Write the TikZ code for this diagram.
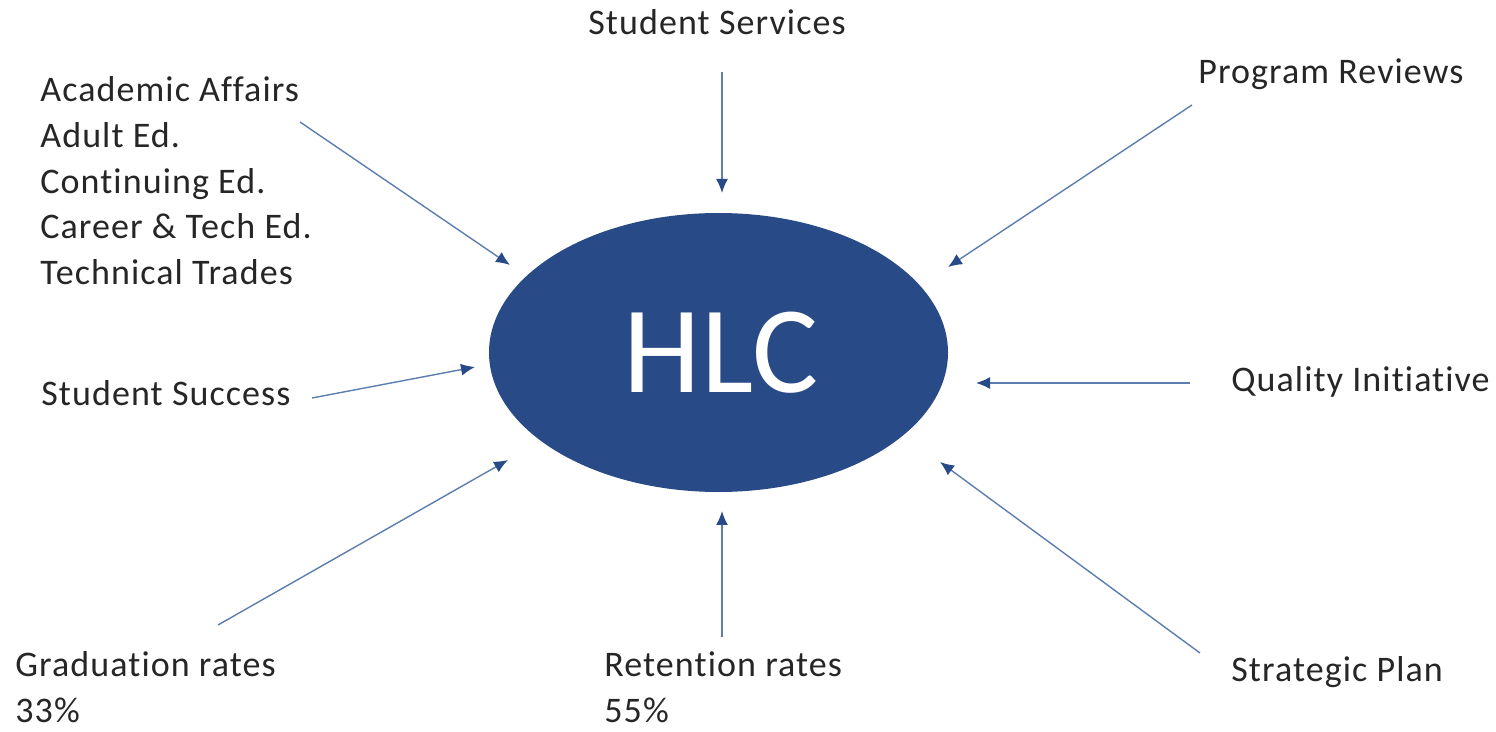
\documentclass[tikz,border=0pt]{standalone}
\usepackage{fontspec}
\setmainfont{Carlito}[Ligatures=NoCommon]
\newfontfamily\lblfont{Carlito}[LetterSpace=3,Ligatures=NoCommon]
\usetikzlibrary{shapes.geometric,arrows.meta}
\definecolor{hlcblue}{RGB}{40,74,134}
\definecolor{linkblue}{RGB}{92,126,175}
\tikzset{
  lbl/.style={anchor=base west,inner sep=0pt,font=\lblfont\fontsize{18pt}{22.85pt}\selectfont,text=black!85,align=left},
  conn/.style={draw=linkblue,line width=0.7pt,-{Latex[length=7pt,width=6pt,color=hlcblue]}}
}
\begin{document}
\begin{tikzpicture}[x=0.5pt,y=-0.5pt]
\useasboundingbox (0,0) rectangle (1496,732);
\node[ellipse,fill=hlcblue,minimum width=229.5pt,minimum height=139.5pt,inner sep=0pt] (hlc) at (718.5,352.5) {};
\node[anchor=center,text=white,font=\fontsize{62pt}{70pt}\selectfont,inner sep=0pt] (hlct) at (721,353) {HLC};

\node[lbl] (aa) at (40,102) {Academic Affairs};
\node[lbl] (ae) at (40,147.7) {Adult Ed.};
\node[lbl] (ce) at (40,193.4) {Continuing Ed.};
\node[lbl] (ct) at (40,239) {Career \& Tech Ed.};
\node[lbl] (tt) at (40,284.7) {Technical Trades};
\node[lbl] (ss) at (588,35) {Student Services};
\node[lbl] (pr) at (1198,84) {Program Reviews};
\node[lbl] (qi) at (1231,392) {Quality Initiative};
\node[lbl] (su) at (41,406) {Student Success};
\node[lbl] (gr) at (15,677) {Graduation rates};
\node[lbl] (gp) at (15,723) {33\%};
\node[lbl] (rr) at (604,677) {Retention rates};
\node[lbl] (rp) at (604,723) {55\%};
\node[lbl] (sp) at (1231,682) {Strategic Plan};

\coordinate (aS) at (300,122);   \coordinate (aE) at (510,265);
\coordinate (sS) at (722,72);    \coordinate (sE) at (722,193);
\coordinate (pS) at (1192,105);  \coordinate (pE) at (948,267);
\coordinate (qS) at (1190,383);  \coordinate (qE) at (976,383);
\coordinate (tS) at (1200,653);  \coordinate (tE) at (940,462);
\coordinate (rS) at (722,637);   \coordinate (rE) at (722,511);
\coordinate (gS) at (218,625);   \coordinate (gE) at (508,460);
\coordinate (uS) at (312,398);   \coordinate (uE) at (475,367);

\draw[conn] (aS) -- (aE);
\draw[conn] (sS) -- (sE);
\draw[conn] (pS) -- (pE);
\draw[conn] (qS) -- (qE);
\draw[conn] (tS) -- (tE);
\draw[conn] (rS) -- (rE);
\draw[conn] (gS) -- (gE);
\draw[conn] (uS) -- (uE);
\end{tikzpicture}
\end{document}
